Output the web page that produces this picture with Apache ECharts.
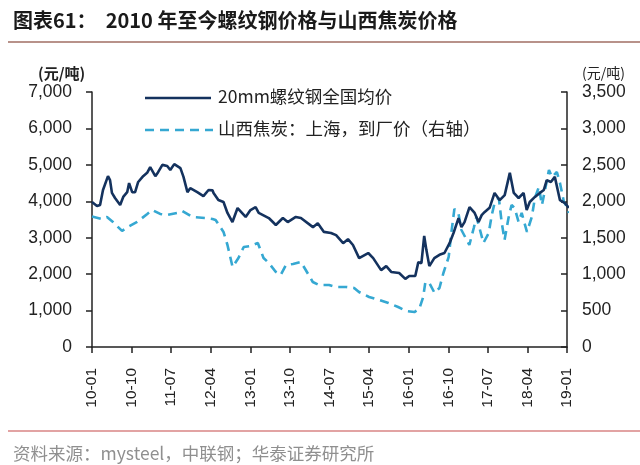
<!DOCTYPE html>
<html>
<head>
<meta charset="utf-8">
<script src="https://cdn.jsdelivr.net/npm/echarts@6/dist/echarts.min.js"></script>
<style>
html,body{margin:0;padding:0;background:#fff;}
#c{width:640px;height:465px;}
</style>
</head>
<body>
<div id="c"></div>
<script>
// 20mm 螺纹钢全国均价 (元/吨, left axis)
var steelDates = ["2010-01-01","2010-02-05","2010-02-26","2010-03-16","2010-04-20","2010-05-04","2010-05-17","2010-06-08","2010-07-13","2010-08-04","2010-09-01","2010-09-14","2010-10-05","2010-10-25","2010-11-16","2010-11-29","2010-12-20","2011-01-17","2011-02-08","2011-03-13","2011-04-02","2011-05-01","2011-06-04","2011-06-25","2011-07-22","2011-09-04","2011-09-25","2011-10-22","2011-11-11","2011-12-29","2012-02-11","2012-03-16","2012-04-13","2012-04-20","2012-05-23","2012-06-28","2012-07-25","2012-08-29","2012-10-04","2012-11-29","2013-01-02","2013-02-07","2013-02-28","2013-05-07","2013-06-25","2013-08-13","2013-09-16","2013-11-11","2013-12-16","2014-03-08","2014-04-11","2014-05-23","2014-07-11","2014-08-16","2014-10-04","2014-11-07","2014-12-11","2015-01-23","2015-03-25","2015-04-29","2015-06-23","2015-07-28","2015-09-02","2015-10-26","2015-12-08","2016-01-05","2016-02-16","2016-03-07","2016-03-28","2016-04-17","2016-05-02","2016-05-22","2016-06-26","2016-08-01","2016-09-05","2016-10-10","2016-11-07","2016-12-11","2017-01-01","2017-01-22","2017-02-26","2017-04-01","2017-04-28","2017-05-19","2017-06-08","2017-07-13","2017-08-17","2017-09-22","2017-10-26","2017-12-01","2017-12-28","2018-02-01","2018-03-05","2018-03-26","2018-04-17","2018-05-22","2018-06-26","2018-07-23","2018-08-13","2018-09-11","2018-10-08","2018-11-13","2018-12-17","2019-01-14"];
var steelValues = [3980,3870,3900,4310,4690,4580,4230,4090,3900,4120,4250,4500,4250,4250,4530,4580,4690,4780,4940,4690,4800,5000,4970,4860,5020,4910,4670,4250,4360,4250,4140,4310,4300,4230,4035,3980,3680,3430,3815,3570,3760,3840,3680,3540,3350,3540,3430,3570,3540,3290,3400,3160,3130,3070,2850,2960,2800,2440,2580,2440,2110,2220,2060,2030,1870,1950,1950,2330,2300,3050,2660,2220,2440,2530,2580,2850,3130,3540,3290,3430,3840,3680,3430,3620,3700,3820,4230,4030,4170,4780,4230,4090,4230,3760,3980,4120,4230,4310,4580,4530,4670,4030,3950,3820];

// 山西焦炭：上海，到厂价 (元/吨, right axis)
var cokeDates = ["2010-01-01","2010-03-09","2010-04-13","2010-05-24","2010-07-26","2010-09-07","2010-11-09","2011-01-18","2011-02-22","2011-04-16","2011-06-04","2011-08-13","2011-09-16","2011-11-25","2012-02-25","2012-04-13","2012-05-04","2012-06-28","2012-07-25","2012-08-30","2012-10-10","2012-11-16","2013-01-04","2013-02-22","2013-04-01","2013-05-07","2013-06-25","2013-07-28","2013-09-04","2013-10-22","2013-12-16","2014-01-19","2014-03-07","2014-04-19","2014-06-28","2014-08-16","2014-10-25","2014-12-19","2015-01-22","2015-04-01","2015-06-10","2015-08-13","2015-10-19","2015-12-16","2016-02-10","2016-03-13","2016-04-10","2016-04-25","2016-05-22","2016-06-28","2016-08-01","2016-08-28","2016-10-04","2016-10-22","2016-11-13","2016-12-10","2017-01-01","2017-02-07","2017-02-25","2017-03-25","2017-04-13","2017-05-04","2017-06-01","2017-07-07","2017-07-28","2017-08-17","2017-09-16","2017-10-05","2017-10-25","2017-11-22","2017-12-13","2018-01-04","2018-02-01","2018-02-22","2018-03-28","2018-05-01","2018-05-22","2018-06-19","2018-07-10","2018-08-01","2018-08-28","2018-09-19","2018-10-22","2018-11-13","2018-12-10","2019-01-01","2019-01-14"];
var cokeValues = [1790,1757,1785,1716,1593,1648,1716,1826,1881,1826,1812,1840,1867,1785,1771,1757,1744,1579,1400,1098,1222,1373,1387,1428,1222,1153,1030,989,1126,1140,1167,1057,892,851,851,824,824,810,755,686,645,604,549,494,480,522,686,892,879,741,810,1016,1236,1565,1895,1840,1606,1469,1400,1634,1785,1634,1428,1565,1812,1977,2046,1716,1469,1771,1950,1908,1716,1840,1579,1785,2046,2197,1950,2156,2430,2334,2402,2252,1991,1922,1840];

var leftTicks = [0,1000,2000,3000,4000,5000,6000,7000];
var rightTicks = [0,500,1000,1500,2000,2500,3000,3500];
var xTickLabels = ["10-01","10-10","11-07","12-04","13-01","13-10","14-07","15-04","16-01","16-10","17-07","18-04","19-01"];

var seriesNames = ["20mm螺纹钢全国均价","山西焦炭：上海，到厂价（右轴）"];
var steelColor = '#14325e', cokeColor = '#35a8d2';

function monthIndex(s){
  var p = s.split("-");
  return (+p[0]-2010)*12 + (+p[1]-1) + (+p[2]-1)/30;
}
function pairs(dates, vals){
  return dates.map(function(d,i){ return [monthIndex(d), vals[i]]; });
}
function fmt(v){ return String(v).replace(/\B(?=(\d{3})+(?!\d))/g, ","); }

var chart = echarts.init(document.getElementById('c'));
var numFont = 'Liberation Sans, Arial, sans-serif';
var cjkFont = '"Noto Sans CJK SC", sans-serif';
chart.setOption({
  animation:false,
  backgroundColor:'#fff',
  grid:{left:92, right:73, top:92, bottom:118, containLabel:false},
  title:[{
    text:'图表61：  2010 年至今螺纹钢价格与山西焦炭价格',
    left:8, top:5,
    textStyle:{fontSize:20, fontWeight:'bold', color:'#1a1a1a', fontFamily:cjkFont}
  },{
    text:'资料来源：mysteel，中联钢；华泰证券研究所',
    left:8, top:440,
    textStyle:{fontSize:17.5, fontWeight:'normal', color:'#8f8f8f', fontFamily:cjkFont}
  },{
    text:'(元/吨)', left:33, top:61,
    textStyle:{fontSize:15, fontWeight:'bold', color:'#222', fontFamily:cjkFont}
  },{
    text:'(元/吨)', left:577, top:61,
    textStyle:{fontSize:14, fontWeight:'normal', color:'#222', fontFamily:cjkFont}
  }],
  graphic:[
    {type:'line', shape:{x1:8,y1:42,x2:640,y2:42}, style:{stroke:'#b8928a', lineWidth:2}},
    {type:'line', shape:{x1:8,y1:431,x2:640,y2:431}, style:{stroke:'#d98585', lineWidth:1.5}},
    {type:'line', shape:{x1:145,y1:98,x2:211,y2:98}, style:{stroke:steelColor, lineWidth:2.6}},
    {type:'line', shape:{x1:145,y1:130,x2:213,y2:130}, style:{stroke:cokeColor, lineWidth:2.6, lineDash:[9,6]}},
    {type:'text', left:218, top:88, style:{text:seriesNames[0], fontSize:17.5, fill:'#222', fontFamily:cjkFont}},
    {type:'text', left:218, top:120, style:{text:seriesNames[1], fontSize:17.5, fill:'#222', fontFamily:cjkFont}}
  ],
  legend:{show:false},
  xAxis:{
    type:'value', min:0, max:108, interval:9,
    axisLine:{show:true, lineStyle:{color:'#222', width:1.5}, onZero:false},
    axisTick:{show:true, length:6, lineStyle:{color:'#222', width:1.5}},
    splitLine:{show:false},
    axisLabel:{
      rotate:90, margin:21, fontSize:15.5, color:'#222', fontFamily:numFont,
      formatter:function(v){ return xTickLabels[Math.round(v/9)]; }
    }
  },
  yAxis:[{
    type:'value', min:leftTicks[0], max:leftTicks[leftTicks.length-1], interval:1000,
    axisLine:{show:true, lineStyle:{color:'#222', width:1.5}},
    axisTick:{show:true, length:6, lineStyle:{color:'#222', width:1.5}},
    splitLine:{show:false},
    axisLabel:{fontSize:17.5, color:'#222', margin:20, fontFamily:numFont, formatter:fmt}
  },{
    type:'value', min:rightTicks[0], max:rightTicks[rightTicks.length-1], interval:500,
    position:'right',
    axisLine:{show:true, lineStyle:{color:'#222', width:1.5}},
    axisTick:{show:true, inside:true, length:6, lineStyle:{color:'#222', width:1.5}},
    splitLine:{show:false},
    axisLabel:{fontSize:17.5, color:'#222', margin:15, fontFamily:numFont, formatter:fmt}
  }],
  series:[{
    name:seriesNames[0], type:'line', yAxisIndex:0, symbol:'none', smooth:false,
    data:pairs(steelDates, steelValues), z:3,
    lineStyle:{color:steelColor, width:2.6}, itemStyle:{color:steelColor}
  },{
    name:seriesNames[1], type:'line', yAxisIndex:1, symbol:'none', smooth:false,
    data:pairs(cokeDates, cokeValues), z:2,
    lineStyle:{color:cokeColor, width:2.6, type:[9,6]}, itemStyle:{color:cokeColor}
  }]
});
</script>
</body>
</html>
